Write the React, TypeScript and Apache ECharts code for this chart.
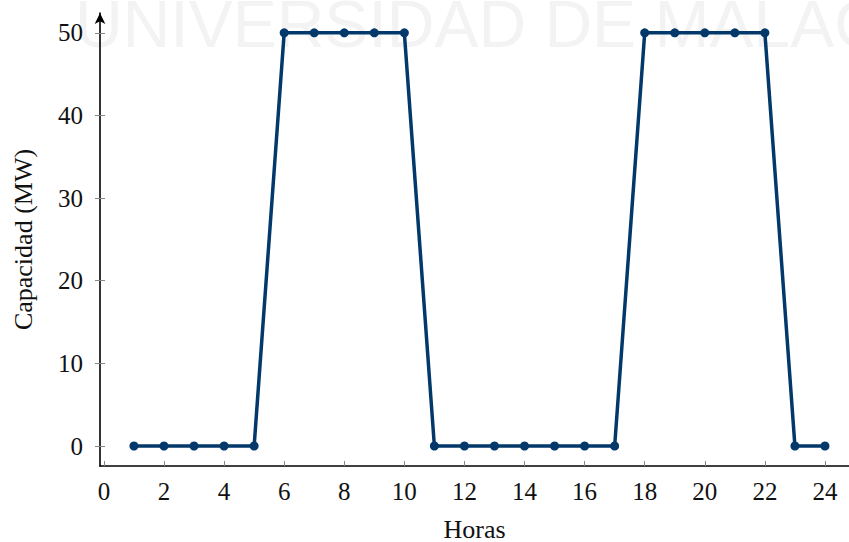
import React, { useEffect, useRef } from "react";
import * as echarts from "echarts";

const hours = [1, 2, 3, 4, 5, 6, 7, 8, 9, 10, 11, 12, 13, 14, 15, 16, 17, 18, 19, 20, 21, 22, 23, 24];
const capacity = [0, 0, 0, 0, 0, 50, 50, 50, 50, 50, 0, 0, 0, 0, 0, 0, 0, 50, 50, 50, 50, 50, 0, 0];
const xTicks = [0, 2, 4, 6, 8, 10, 12, 14, 16, 18, 20, 22, 24];
const yTicks = [0, 10, 20, 30, 40, 50];
const watermark = "UNIVERSIDAD DE MALAGA";

export default function App() {
  const ref = useRef<HTMLDivElement>(null);
  useEffect(() => {
    if (!ref.current) return;
    const chart = echarts.init(ref.current, null, { renderer: "svg" });
    const serif = "Liberation Serif";
    const yMin = -2.42;
    const yMax = 52.4;
    chart.setOption({
      animation: false,
      backgroundColor: "#ffffff",
      graphic: [
        {
          type: "text",
          x: 75,
          y: 57,
          z: -10,
          silent: true,
          style: {
            text: watermark,
            fontFamily: "Liberation Sans",
            fontWeight: "lighter",
            fontSize: 66,
            fill: "#f3f3f3",
            verticalAlign: "bottom",
          },
        },
      ],
      grid: { left: 100, right: 0, top: 13, bottom: 76, outerBoundsMode: "none", containLabel: false },
      xAxis: {
        type: "value",
        min: -0.13,
        max: 24.8,
        name: "Horas",
        nameLocation: "middle",
        nameGap: 50,
        nameTextStyle: { fontFamily: serif, fontSize: 26, color: "#111" },
        axisLine: { show: true, onZero: false, lineStyle: { color: "#000", width: 1.6 } },
        axisTick: {
          show: true,
          inside: true,
          length: 5,
          customValues: xTicks,
          lineStyle: { color: "#888", width: 1 },
        },
        axisLabel: {
          customValues: xTicks,
          margin: 13,
          fontFamily: serif,
          fontSize: 25,
          color: "#111",
        },
        splitLine: { show: false },
      },
      yAxis: [
        {
          type: "value",
          min: yMin,
          max: yMax,
          name: "Capacidad (MW)",
          nameLocation: "middle",
          nameGap: 64,
          nameRotate: 90,
          nameTextStyle: { fontFamily: serif, fontSize: 26, color: "#111" },
          axisLine: {
            show: true,
            onZero: false,
            symbol: ["none", "arrow"],
            symbolSize: [8, 11],
            lineStyle: { color: "#000", width: 1.6 },
          },
          axisTick: {
            show: true,
            inside: false,
            length: 5,
            customValues: yTicks,
            lineStyle: { color: "#888", width: 1 },
          },
          axisLabel: {
            customValues: yTicks,
            margin: 17,
            fontFamily: serif,
            fontSize: 25,
            color: "#111",
          },
          splitLine: { show: false },
        },
        {
          type: "value",
          position: "left",
          min: yMin,
          max: yMax,
          axisLine: { show: false, onZero: false },
          axisTick: {
            show: true,
            inside: true,
            length: 5,
            customValues: yTicks,
            lineStyle: { color: "#888", width: 1 },
          },
          axisLabel: { show: false },
          splitLine: { show: false },
        },
      ],
      series: [
        {
          type: "line",
          data: hours.map((h, i) => [h, capacity[i]]),
          yAxisIndex: 0,
          symbol: "circle",
          symbolSize: 9,
          showSymbol: true,
          lineStyle: { color: "#03386a", width: 3.5 },
          itemStyle: { color: "#03386a" },
        },
      ],
    });
    return () => chart.dispose();
  }, []);
  return (
    <div
      ref={ref}
      style={{ position: "absolute", left: 0, top: 0, width: 849, height: 542 }}
    />
  );
}
